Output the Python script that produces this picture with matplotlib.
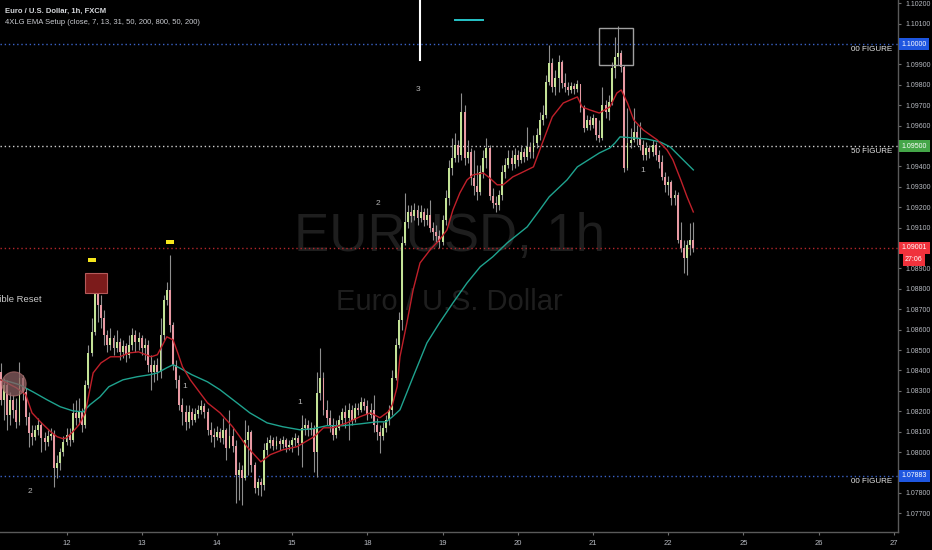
import matplotlib
matplotlib.use("Agg")
import matplotlib.pyplot as plt
import matplotlib.transforms as mtransforms
from matplotlib.patches import Rectangle, Ellipse
import numpy as np

plt.rcParams["font.family"] = ["Liberation Sans", "DejaVu Sans"]

# hourly candles, bar index -21 .. 200 (index 0 = day 12 00:00), open = previous close
first_open = 1.08393
closes = [
    # day 11 (tail)
    1.08256, 1.08330, 1.08183, 1.08256, 1.08207, 1.08148, 1.08364, 1.08295, 1.08173, 1.08094, 1.08075,
    1.08109, 1.08134, 1.08070, 1.08050, 1.08080, 1.08089, 1.07923, 1.07947, 1.08001, 1.08050,
    # day 12
    1.08085, 1.08060, 1.08192, 1.08168, 1.08197, 1.08134, 1.08330, 1.08486, 1.08589, 1.08785, 1.08722, 1.08658,
    1.08575, 1.08526, 1.08560, 1.08511, 1.08540, 1.08491, 1.08521, 1.08477, 1.08526, 1.08575, 1.08540, 1.08560,
    # day 13
    1.08511, 1.08526, 1.08428, 1.08393, 1.08428, 1.08393, 1.08575, 1.08746, 1.08795, 1.08624, 1.08428, 1.08354,
    1.08232, 1.08197, 1.08148, 1.08197, 1.08158, 1.08187, 1.08207, 1.08227, 1.08197, 1.08109, 1.08085, 1.08075,
    # day 14
    1.08099, 1.08070, 1.08109, 1.08021, 1.08080, 1.08031, 1.07889, 1.07913, 1.07874, 1.08060, 1.08099, 1.07938,
    1.07825, 1.07854, 1.07840, 1.08011, 1.08045, 1.08060, 1.08031, 1.08055, 1.08040, 1.08060, 1.08026, 1.08036,
    # day 15
    1.08060, 1.08070, 1.08045, 1.08119, 1.08134, 1.08109, 1.08119, 1.08001, 1.08290, 1.08364, 1.08207, 1.08168,
    1.08134, 1.08085, 1.08119, 1.08158, 1.08197, 1.08168, 1.08207, 1.08158, 1.08217, 1.08207, 1.08246, 1.08227,
    # day 18
    1.08183, 1.08207, 1.08134, 1.08099, 1.08080, 1.08119, 1.08158, 1.08207, 1.08364, 1.08526, 1.08648, 1.09025,
    1.09128, 1.09177, 1.09158, 1.09187, 1.09148, 1.09177, 1.09138, 1.09163, 1.09099, 1.09079, 1.09060, 1.09030,
    # day 19
    1.09138, 1.09246, 1.09393, 1.09442, 1.09506, 1.09457, 1.09667, 1.09442, 1.09471, 1.09344, 1.09305, 1.09275,
    1.09373, 1.09442, 1.09491, 1.09256, 1.09221, 1.09212, 1.09261, 1.09373, 1.09408, 1.09442, 1.09412, 1.09457,
    # day 20
    1.09432, 1.09471, 1.09447, 1.09496, 1.09471, 1.09515, 1.09555, 1.09628, 1.09653, 1.09814, 1.09907, 1.09790,
    1.09834, 1.09912, 1.09809, 1.09790, 1.09775, 1.09795, 1.09780, 1.09804, 1.09687, 1.09589, 1.09628, 1.09604,
    # day 21
    1.09638, 1.09555, 1.09540, 1.09702, 1.09667, 1.09716, 1.09883, 1.09937, 1.09956, 1.09888, 1.09393, 1.09515,
    1.09530, 1.09569, 1.09540, 1.09506, 1.09457, 1.09491, 1.09471, 1.09506, 1.09457, 1.09422, 1.09349, 1.09310,
    # day 22
    1.09324, 1.09246, 1.09261, 1.09040, 1.09001, 1.08952, 1.09016, 1.09040, 1.09001,
]
highs = [
    1.08437, 1.08364, 1.08354, 1.08295, 1.08281, 1.08266, 1.08442, 1.08379, 1.08315, 1.08197, 1.08134,
    1.08134, 1.08168, 1.08148, 1.08099, 1.08109, 1.08119, 1.08109, 1.07987, 1.08021, 1.08080,
    1.08119, 1.08119, 1.08241, 1.08256, 1.08266, 1.08217, 1.08354, 1.08526, 1.08658, 1.08829, 1.08859, 1.08771,
    1.08697, 1.08599, 1.08609, 1.08575, 1.08599, 1.08560, 1.08550, 1.08535, 1.08575, 1.08609, 1.08599, 1.08589,
    1.08575, 1.08560, 1.08550, 1.08477, 1.08452, 1.08462, 1.08658, 1.08771, 1.08834, 1.08967, 1.08638, 1.08452,
    1.08379, 1.08266, 1.08232, 1.08232, 1.08217, 1.08217, 1.08232, 1.08256, 1.08241, 1.08217, 1.08148, 1.08119,
    1.08129, 1.08119, 1.08168, 1.08119, 1.08207, 1.08119, 1.08060, 1.07952, 1.07938, 1.08158, 1.08134, 1.08109,
    1.07952, 1.07874, 1.07874, 1.08045, 1.08075, 1.08085, 1.08075, 1.08080, 1.08070, 1.08080, 1.08070, 1.08060,
    1.08075, 1.08094, 1.08085, 1.08183, 1.08168, 1.08158, 1.08148, 1.08134, 1.08393, 1.08511, 1.08393, 1.08256,
    1.08207, 1.08168, 1.08158, 1.08183, 1.08217, 1.08232, 1.08241, 1.08232, 1.08241, 1.08241, 1.08271, 1.08266,
    1.08256, 1.08241, 1.08281, 1.08168, 1.08134, 1.08148, 1.08183, 1.08232, 1.08403, 1.08560, 1.08687, 1.09060,
    1.09270, 1.09212, 1.09212, 1.09221, 1.09212, 1.09212, 1.09197, 1.09197, 1.09236, 1.09128, 1.09114, 1.09089,
    1.09163, 1.09285, 1.09432, 1.09540, 1.09564, 1.09530, 1.09760, 1.09702, 1.09530, 1.09491, 1.09481, 1.09408,
    1.09408, 1.09481, 1.09540, 1.09506, 1.09295, 1.09256, 1.09285, 1.09408, 1.09442, 1.09481, 1.09481, 1.09491,
    1.09481, 1.09506, 1.09491, 1.09594, 1.09520, 1.09555, 1.09589, 1.09667, 1.09702, 1.09849, 1.09996, 1.09932,
    1.09873, 1.09947, 1.09922, 1.09858, 1.09814, 1.09814, 1.09809, 1.09824, 1.09800, 1.09702, 1.09653, 1.09648,
    1.09657, 1.09638, 1.09628, 1.09790, 1.09726, 1.09751, 1.09912, 1.10035, 1.10089, 1.09971, 1.09898, 1.09687,
    1.09589, 1.09687, 1.09604, 1.09618, 1.09530, 1.09520, 1.09506, 1.09530, 1.09520, 1.09481, 1.09457, 1.09373,
    1.09354, 1.09334, 1.09285, 1.09275, 1.09128, 1.09040, 1.09040, 1.09123, 1.09128,
]
lows = [
    1.08232, 1.08158, 1.08109, 1.08134, 1.08168, 1.08119, 1.08134, 1.08256, 1.08134, 1.08026, 1.08036,
    1.08060, 1.08085, 1.08001, 1.08011, 1.08031, 1.08060, 1.07830, 1.07874, 1.07913, 1.07982,
    1.08036, 1.08031, 1.08050, 1.08134, 1.08138, 1.08099, 1.08119, 1.08315, 1.08472, 1.08575, 1.08638, 1.08609,
    1.08526, 1.08491, 1.08501, 1.08477, 1.08491, 1.08452, 1.08462, 1.08442, 1.08462, 1.08501, 1.08491, 1.08501,
    1.08477, 1.08452, 1.08393, 1.08305, 1.08344, 1.08354, 1.08364, 1.08550, 1.08722, 1.08589, 1.08403, 1.08315,
    1.08207, 1.08134, 1.08109, 1.08119, 1.08134, 1.08148, 1.08168, 1.08187, 1.08168, 1.08085, 1.08050, 1.08026,
    1.08060, 1.08050, 1.08040, 1.07962, 1.08021, 1.08001, 1.07751, 1.07766, 1.07741, 1.07864, 1.07889, 1.07903,
    1.07800, 1.07790, 1.07786, 1.07815, 1.07987, 1.08021, 1.08011, 1.08016, 1.08011, 1.08021, 1.08001, 1.08011,
    1.08001, 1.08031, 1.07987, 1.07928, 1.08085, 1.08080, 1.08085, 1.07903, 1.07879, 1.08256, 1.08183, 1.08134,
    1.08099, 1.08060, 1.08070, 1.08109, 1.08134, 1.08119, 1.08060, 1.08134, 1.08148, 1.08183, 1.08197, 1.08207,
    1.08158, 1.08168, 1.08099, 1.08060, 1.07996, 1.08060, 1.08099, 1.08134, 1.08183, 1.08354, 1.08511, 1.08599,
    1.09016, 1.09099, 1.09128, 1.09138, 1.09114, 1.09128, 1.09109, 1.09114, 1.09079, 1.09040, 1.09030, 1.09001,
    1.09016, 1.09114, 1.09212, 1.09359, 1.09422, 1.09422, 1.09432, 1.09408, 1.09417, 1.09310, 1.09261, 1.09236,
    1.09261, 1.09344, 1.09393, 1.09236, 1.09197, 1.09177, 1.09187, 1.09236, 1.09344, 1.09393, 1.09383, 1.09393,
    1.09403, 1.09417, 1.09422, 1.09432, 1.09442, 1.09442, 1.09491, 1.09530, 1.09604, 1.09638, 1.09800, 1.09765,
    1.09751, 1.09765, 1.09785, 1.09765, 1.09751, 1.09760, 1.09755, 1.09765, 1.09667, 1.09569, 1.09579, 1.09579,
    1.09589, 1.09530, 1.09520, 1.09530, 1.09638, 1.09628, 1.09702, 1.09834, 1.09898, 1.09863, 1.09373, 1.09383,
    1.09491, 1.09520, 1.09506, 1.09481, 1.09432, 1.09432, 1.09442, 1.09452, 1.09432, 1.09393, 1.09334, 1.09275,
    1.09261, 1.09212, 1.09212, 1.09025, 1.08981, 1.08878, 1.08869, 1.08967, 1.08981,
]

# EMA lines (bar index, price)
fast_ema_x = [-21, -16, -13, -11, -8, -5, -3, -1, 0, 2, 4, 6, 7, 8.5, 11, 14, 17, 20, 23, 27, 29, 31, 32, 34,
              35.5, 37, 39.5, 42.6, 45, 49, 53, 57.6, 62, 65, 69, 73.5, 79, 82, 85, 89.5, 93.6, 97, 100, 102.6,
              104, 105.5, 106.4, 108.6, 110.6, 112.8, 116, 119, 121.4, 123.3, 125.5, 127.8, 129.7, 133, 135,
              137.4, 139.3, 142.4, 145, 149, 151, 155, 158.5, 163, 164.5, 167, 170, 173.4, 175.6, 177, 179,
              181, 184, 188.5, 191.6, 193.5, 196, 198, 200]
fast_ema_y = [1.08354, 1.08315, 1.08281, 1.08192, 1.08143, 1.08099, 1.08075, 1.08065, 1.08070, 1.08099, 1.08134,
              1.08192, 1.08271, 1.08388, 1.08437, 1.08467, 1.08467, 1.08486, 1.08491, 1.08467, 1.08477, 1.08535,
              1.08565, 1.08550, 1.08486, 1.08418, 1.08354, 1.08290, 1.08241, 1.08192, 1.08124, 1.08026, 1.07952,
              1.07987, 1.08011, 1.08026, 1.08075, 1.08119, 1.08119, 1.08143, 1.08173, 1.08192, 1.08168, 1.08197,
              1.08232, 1.08320, 1.08467, 1.08633, 1.08795, 1.08927, 1.08991, 1.09040, 1.09089, 1.09187, 1.09270,
              1.09334, 1.09359, 1.09368, 1.09344, 1.09310, 1.09310, 1.09349, 1.09368, 1.09398, 1.09481, 1.09643,
              1.09711, 1.09741, 1.09692, 1.09677, 1.09662, 1.09692, 1.09760, 1.09775, 1.09711, 1.09628, 1.09579,
              1.09530, 1.09481, 1.09432, 1.09334, 1.09251, 1.09177]
slow_ema_x = [-21, -18, -15, -10.7, -6.2, -2, 2, 5.3, 7.5, 10.7, 13.5, 18, 22.5, 26.6, 29, 32, 34, 36, 40, 45,
              49, 54.4, 58.5, 64, 69, 74.5, 78.6, 83, 88, 93.6, 99, 102, 104, 106.4, 110.6, 115, 119, 123.3,
              127.8, 132, 136, 140.6, 147, 151, 154, 159.7, 163, 170, 173.4, 175, 176.6, 180.8, 185, 189.4,
              192.6, 195.8, 200]
slow_ema_y = [1.08354, 1.08344, 1.08330, 1.08295, 1.08256, 1.08222, 1.08202, 1.08197, 1.08232, 1.08271, 1.08320,
              1.08354, 1.08369, 1.08379, 1.08388, 1.08413, 1.08428, 1.08413, 1.08379, 1.08344, 1.08305, 1.08241,
              1.08192, 1.08143, 1.08124, 1.08109, 1.08114, 1.08129, 1.08129, 1.08138, 1.08148, 1.08148, 1.08173,
              1.08207, 1.08369, 1.08535, 1.08633, 1.08731, 1.08829, 1.08908, 1.08957, 1.09025, 1.09104, 1.09187,
              1.09251, 1.09334, 1.09398, 1.09466, 1.09491, 1.09515, 1.09545, 1.09540, 1.09535, 1.09520, 1.09496,
              1.09447, 1.09383]

day_ticks = [0, 24, 48, 72, 96, 120, 144, 168, 192, 216, 240, 264]
day_labels = ["12", "13", "14", "15", "18", "19", "20", "21", "22", "25", "26", "27"]

figure_levels = [1.10000, 1.09500, 1.07883]
figure_names = ["00 FIGURE", "50 FIGURE", "00 FIGURE"]
last_price = 1.09001

bg = "#000000"
txt = "#b8bbc2"
bull = "#c3e296"
bear = "#e89aa3"
wick = "#8f8f8f"

fig = plt.figure(figsize=(9.32, 5.5), dpi=100, facecolor=bg)
ax = fig.add_axes([0, 18 / 550, 898 / 932, 532 / 550])
ax.set_facecolor(bg)
ax.set_xlim(-21.22, 265.31)
ax.set_ylim(1.07608, 1.10216)

# watermark
ax.text(0.5, 0.555, "EURUSD, 1h", transform=ax.transAxes, ha="center", va="center",
        fontsize=38, color="#1e1e1e", zorder=0)
ax.text(0.5, 0.432, "Euro / U.S. Dollar", transform=ax.transAxes, ha="center", va="center",
        fontsize=21, color="#1e1e1e", zorder=0)

# candles
n = min(len(closes), len(highs), len(lows))
c = np.array(closes[:n])
o = np.concatenate([[first_open], c[:-1]])
h = np.maximum(np.array(highs[:n]), np.maximum(o, c))
l = np.minimum(np.array(lows[:n]), np.minimum(o, c))
x = np.arange(n) - 21
up = c >= o
ax.vlines(x, l, h, color=wick, lw=0.8, zorder=2)
body = np.maximum(np.abs(c - o), 0.00003)
ax.bar(x, body, bottom=np.minimum(o, c), width=0.62,
       color=np.where(up, bull, bear), linewidth=0, zorder=3)

# EMAs
ax.plot(slow_ema_x, slow_ema_y, color="#1fa38f", lw=1.0, zorder=4)
ax.plot(fast_ema_x, fast_ema_y, color="#c0202a", lw=1.0, zorder=4)

# figure lines
dot = (0, (1, 2))
ax.axhline(figure_levels[0], color="#3b63c8", lw=1, ls=dot, zorder=1)
ax.axhline(figure_levels[1], color="#cfcfcf", lw=1, ls=dot, zorder=1)
ax.axhline(figure_levels[2], color="#3b63c8", lw=1, ls=dot, zorder=1)
ax.axhline(last_price, color="#b3262b", lw=1, ls=dot, zorder=1)
for lv, nm in zip(figure_levels, figure_names):
    ax.annotate(nm, xy=(1.0, lv), xycoords=("axes fraction", "data"), xytext=(-4, -3.8),
                textcoords="offset points", ha="right", va="center", fontsize=5.8, color="#e6e6e6")

# annotations drawn on the chart
ax.add_patch(Rectangle((5.9, 1.08780), 7.0, 0.00098, fc="#7c1b1b", ec="#b55a5a", lw=0.8, zorder=5))
ax.add_patch(Rectangle((169.9, 1.09897), 10.9, 0.00182, fc="none", ec="#a0a0a0", lw=1.0, zorder=5))
ax.add_patch(Rectangle((6.9, 1.08932), 2.6, 0.00020, fc="#f5e61c", ec="none", zorder=5))
ax.add_patch(Rectangle((31.7, 1.09020), 2.6, 0.00020, fc="#f5e61c", ec="none", zorder=5))
ax.add_patch(Ellipse((-16.75, 1.08334), 7.7, 0.00118, fc="#8a6062", ec="#a86a6a", alpha=0.75, lw=0.8, zorder=5))
ax.plot([112.8, 112.8], [1.10216, 1.09922], color="white", lw=1.5, zorder=5, clip_on=False)
ax.plot([124, 133], [1.10118, 1.10118], color="#27c4c8", lw=1.4, zorder=5)

labels = [("3", 112.2, 1.09775), ("2", 99.5, 1.09216), ("1", 37.8, 1.08320), ("1", 74.5, 1.08241),
          ("2", -11.6, 1.07805), ("1", 183.9, 1.09378)]
for s, lx, ly in labels:
    ax.text(lx, ly, s, color="#b5b5b5", fontsize=6, ha="center", va="center", zorder=6)
ax.text(-8.0, 1.08746, "Possible Reset", color="#c8c8c8", fontsize=6.8, ha="right", va="center", zorder=6)

# axes styling
hidden = {1.100, 1.095, 1.090, 1.079}
yt = np.round(np.arange(1.077, 1.1021, 0.001), 3)
ax.yaxis.tick_right()
ax.set_yticks(yt)
ax.set_yticklabels(["" if v in hidden else "%.5f" % v for v in yt])
ax.set_xticks(day_ticks)
ax.set_xticklabels(day_labels)
ax.tick_params(axis="both", colors="#6f6f6f", labelcolor=txt, labelsize=5, length=2.5, width=0.8)
ax.tick_params(axis="y", pad=3)
ax.tick_params(axis="x", pad=3, labelsize=5.5)
for side in ["left", "top"]:
    ax.spines[side].set_visible(False)
for side in ["right", "bottom"]:
    ax.spines[side].set_color("#5a5a5a")
    ax.spines[side].set_linewidth(1)

# price tags on the right scale
tf = mtransforms.blended_transform_factory(ax.transAxes, ax.transData)
tags = [(1.10000, "1.10000", "#1e56e0"), (1.09500, "1.09500", "#44a648"),
        (last_price, "1.09001", "#f0323c"), (1.07883, "1.07883", "#1e56e0")]
for yv, s, col in tags:
    ax.text(1.0038, yv, s, transform=tf, ha="left", va="center", fontsize=5, color="white",
            bbox=dict(boxstyle="square,pad=0.4", fc=col, ec="none"), clip_on=False, zorder=10)
ax.text(1.0078, 1.08942, "27:06", transform=tf, ha="left", va="center", fontsize=5, color="white",
        bbox=dict(boxstyle="square,pad=0.35", fc="#f0323c", ec="none"), clip_on=False, zorder=10)

# header
fig.text(5 / 932, 1 - 11 / 550, "Euro / U.S. Dollar, 1h, FXCM", fontsize=5.5, fontweight="bold",
         color="#d6d8dc", va="center", ha="left")
fig.text(5 / 932, 1 - 22 / 550, "4XLG EMA Setup (close, 7, 13, 31, 50, 200, 800, 50, 200)", fontsize=5.5,
         color="#c8cacf", va="center", ha="left")

fig.savefig("out.png", dpi=100, facecolor=bg)
